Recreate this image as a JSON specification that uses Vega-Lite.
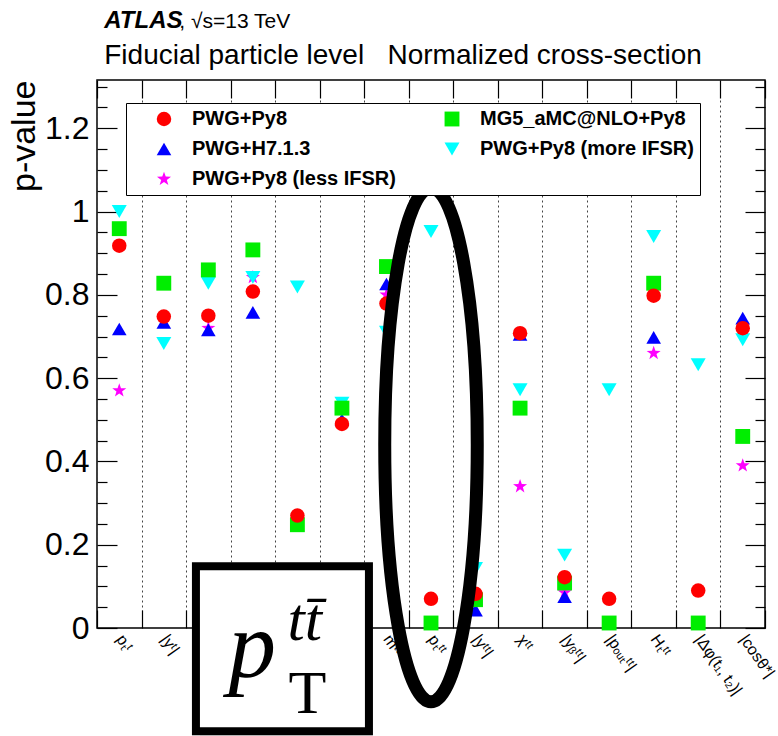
{
  "$schema": "https://vega.github.io/schema/vega-lite/v6.json",
  "autosize": "none",
  "width": 668,
  "height": 548,
  "padding": {"left": 97, "top": 80, "right": 13, "bottom": 108},
  "background": "white",
  "config": {
    "font": "Liberation Sans",
    "view": {"stroke": "black", "strokeWidth": 1.5},
    "axis": {"domain": false, "tickColor": "black", "tickWidth": 1.2, "labelColor": "black", "titleColor": "black", "labelFont": "Liberation Sans", "titleFont": "Liberation Sans", "grid": false}
  },
  "datasets": {
    "pts": [
      {"var": "pₜᵗ", "model": "PWG+Py8 (less IFSR)", "p": 0.570},
      {"var": "pₜᵗ¹", "model": "PWG+Py8 (less IFSR)", "p": 0.72},
      {"var": "|yᵗ¹|", "model": "PWG+Py8 (less IFSR)", "p": 0.842},
      {"var": "mᵗᵗ", "model": "PWG+Py8 (less IFSR)", "p": 0.80},
      {"var": "χᵗᵗ", "model": "PWG+Py8 (less IFSR)", "p": 0.340},
      {"var": "|yᵦᵗᵗ|", "model": "PWG+Py8 (less IFSR)", "p": 0.085},
      {"var": "Hₜᵗᵗ", "model": "PWG+Py8 (less IFSR)", "p": 0.660},
      {"var": "|cosθ*|", "model": "PWG+Py8 (less IFSR)", "p": 0.39},

      {"var": "pₜᵗ", "model": "PWG+Py8 (more IFSR)", "p": 1.0},
      {"var": "|yᵗ|", "model": "PWG+Py8 (more IFSR)", "p": 0.683},
      {"var": "pₜᵗ¹", "model": "PWG+Py8 (more IFSR)", "p": 0.828},
      {"var": "|yᵗ¹|", "model": "PWG+Py8 (more IFSR)", "p": 0.842},
      {"var": "pₜᵗ²", "model": "PWG+Py8 (more IFSR)", "p": 0.819},
      {"var": "|yᵗ²|", "model": "PWG+Py8 (more IFSR)", "p": 0.54},
      {"var": "mᵗᵗ", "model": "PWG+Py8 (more IFSR)", "p": 0.710},
      {"var": "pₜᵗᵗ", "model": "PWG+Py8 (more IFSR)", "p": 0.952},
      {"var": "|yᵗᵗ|", "model": "PWG+Py8 (more IFSR)", "p": 0.143},
      {"var": "χᵗᵗ", "model": "PWG+Py8 (more IFSR)", "p": 0.572},
      {"var": "|yᵦᵗᵗ|", "model": "PWG+Py8 (more IFSR)", "p": 0.175},
      {"var": "|pₒᵤₜᵗᵗ|", "model": "PWG+Py8 (more IFSR)", "p": 0.572},
      {"var": "Hₜᵗᵗ", "model": "PWG+Py8 (more IFSR)", "p": 0.940},
      {"var": "|Δφ(t₁, t₂)|", "model": "PWG+Py8 (more IFSR)", "p": 0.632},
      {"var": "|cosθ*|", "model": "PWG+Py8 (more IFSR)", "p": 0.692},

      {"var": "pₜᵗ", "model": "PWG+H7.1.3", "p": 0.718},
      {"var": "|yᵗ|", "model": "PWG+H7.1.3", "p": 0.734},
      {"var": "pₜᵗ¹", "model": "PWG+H7.1.3", "p": 0.716},
      {"var": "|yᵗ¹|", "model": "PWG+H7.1.3", "p": 0.758},
      {"var": "|yᵗ²|", "model": "PWG+H7.1.3", "p": 0.50},
      {"var": "mᵗᵗ", "model": "PWG+H7.1.3", "p": 0.826},
      {"var": "|yᵗᵗ|", "model": "PWG+H7.1.3", "p": 0.043},
      {"var": "χᵗᵗ", "model": "PWG+H7.1.3", "p": 0.705},
      {"var": "|yᵦᵗᵗ|", "model": "PWG+H7.1.3", "p": 0.075},
      {"var": "Hₜᵗᵗ", "model": "PWG+H7.1.3", "p": 0.698},
      {"var": "|cosθ*|", "model": "PWG+H7.1.3", "p": 0.744},

      {"var": "pₜᵗ", "model": "MG5_aMC@NLO+Py8", "p": 0.959},
      {"var": "|yᵗ|", "model": "MG5_aMC@NLO+Py8", "p": 0.828},
      {"var": "pₜᵗ¹", "model": "MG5_aMC@NLO+Py8", "p": 0.860},
      {"var": "|yᵗ¹|", "model": "MG5_aMC@NLO+Py8", "p": 0.908},
      {"var": "pₜᵗ²", "model": "MG5_aMC@NLO+Py8", "p": 0.248},
      {"var": "|yᵗ²|", "model": "MG5_aMC@NLO+Py8", "p": 0.528},
      {"var": "mᵗᵗ", "model": "MG5_aMC@NLO+Py8", "p": 0.868},
      {"var": "pₜᵗᵗ", "model": "MG5_aMC@NLO+Py8", "p": 0.012},
      {"var": "|yᵗᵗ|", "model": "MG5_aMC@NLO+Py8", "p": 0.068},
      {"var": "χᵗᵗ", "model": "MG5_aMC@NLO+Py8", "p": 0.528},
      {"var": "|yᵦᵗᵗ|", "model": "MG5_aMC@NLO+Py8", "p": 0.108},
      {"var": "|pₒᵤₜᵗᵗ|", "model": "MG5_aMC@NLO+Py8", "p": 0.012},
      {"var": "Hₜᵗᵗ", "model": "MG5_aMC@NLO+Py8", "p": 0.828},
      {"var": "|Δφ(t₁, t₂)|", "model": "MG5_aMC@NLO+Py8", "p": 0.012},
      {"var": "|cosθ*|", "model": "MG5_aMC@NLO+Py8", "p": 0.460},

      {"var": "pₜᵗ", "model": "PWG+Py8", "p": 0.918},
      {"var": "|yᵗ|", "model": "PWG+Py8", "p": 0.748},
      {"var": "pₜᵗ¹", "model": "PWG+Py8", "p": 0.750},
      {"var": "|yᵗ¹|", "model": "PWG+Py8", "p": 0.808},
      {"var": "pₜᵗ²", "model": "PWG+Py8", "p": 0.270},
      {"var": "|yᵗ²|", "model": "PWG+Py8", "p": 0.490},
      {"var": "mᵗᵗ", "model": "PWG+Py8", "p": 0.779},
      {"var": "pₜᵗᵗ", "model": "PWG+Py8", "p": 0.070},
      {"var": "|yᵗᵗ|", "model": "PWG+Py8", "p": 0.082},
      {"var": "χᵗᵗ", "model": "PWG+Py8", "p": 0.708},
      {"var": "|yᵦᵗᵗ|", "model": "PWG+Py8", "p": 0.122},
      {"var": "|pₒᵤₜᵗᵗ|", "model": "PWG+Py8", "p": 0.070},
      {"var": "Hₜᵗᵗ", "model": "PWG+Py8", "p": 0.798},
      {"var": "|Δφ(t₁, t₂)|", "model": "PWG+Py8", "p": 0.090},
      {"var": "|cosθ*|", "model": "PWG+Py8", "p": 0.720}
    ],
    "one": [{"k": 1}]
  },
  "layer": [
    {
      "data": {"name": "pts"},
      "mark": {"type": "point", "filled": true, "opacity": 1, "strokeWidth": 0},
      "encoding": {
        "x": {"field": "var", "type": "nominal",
          "scale": {"type": "band", "paddingInner": 0, "paddingOuter": 0, "domain": ["pₜᵗ", "|yᵗ|", "pₜᵗ¹", "|yᵗ¹|", "pₜᵗ²", "|yᵗ²|", "mᵗᵗ", "pₜᵗᵗ", "|yᵗᵗ|", "χᵗᵗ", "|yᵦᵗᵗ|", "|pₒᵤₜᵗᵗ|", "Hₜᵗᵗ", "|Δφ(t₁, t₂)|", "|cosθ*|"]},
          "axis": {"orient": "bottom", "title": null, "tickBand": "extent", "grid": true, "gridDash": [2, 3], "gridColor": "#444", "gridWidth": 1, "tickSize": -18, "labelAngle": 55, "labelAlign": "left", "labelBaseline": "middle", "labelFontSize": 16, "labelPadding": 26, "labelOverlap": false}},
        "y": {"field": "p", "type": "quantitative",
          "scale": {"domain": [0, 1.316], "nice": false, "zero": false},
          "axis": {"orient": "left", "title": "p-value", "titleFontSize": 34, "titleFontWeight": "normal", "titleAnchor": "end", "titlePadding": 3, "values": [0, 0.2, 0.4, 0.6, 0.8, 1, 1.2], "format": "~g", "labelFontSize": 32, "labelPadding": 28, "tickSize": -20, "labelOverlap": false, "labelFlush": false}},
        "color": {"field": "model", "type": "nominal",
          "scale": {"domain": ["PWG+Py8", "PWG+H7.1.3", "PWG+Py8 (less IFSR)", "MG5_aMC@NLO+Py8", "PWG+Py8 (more IFSR)"], "range": ["#ff0000", "#0000ff", "#ff00ff", "#00ee00", "#00ffff"]},
          "legend": {"title": null, "orient": "none", "legendX": 29, "legendY": 23, "columns": 2, "padding": 6, "strokeColor": "black", "fillColor": "white", "labelFontSize": 20, "labelFontWeight": "bold", "labelColor": "black", "symbolOffset": 22, "labelOffset": 18, "columnPadding": 24, "rowPadding": 10, "labelLimit": 400}},
        "shape": {"field": "model", "type": "nominal",
          "scale": {"domain": ["PWG+Py8", "PWG+H7.1.3", "PWG+Py8 (less IFSR)", "MG5_aMC@NLO+Py8", "PWG+Py8 (more IFSR)"], "range": ["circle", "triangle-up", "M0,-1L0.235,-0.324L0.951,-0.309L0.380,0.124L0.588,0.809L0,0.4L-0.588,0.809L-0.380,0.124L-0.951,-0.309L-0.235,-0.324Z", "square", "triangle-down"]},
          "legend": {"title": null, "orient": "none", "legendX": 29, "legendY": 23, "columns": 2, "padding": 6, "strokeColor": "black", "fillColor": "white", "labelFontSize": 20, "labelFontWeight": "bold", "labelColor": "black", "symbolOffset": 22, "labelOffset": 18, "columnPadding": 24, "rowPadding": 10, "labelLimit": 400}},
        "size": {"field": "model", "type": "nominal",
          "scale": {"domain": ["PWG+Py8", "PWG+H7.1.3", "PWG+Py8 (less IFSR)", "MG5_aMC@NLO+Py8", "PWG+Py8 (more IFSR)"], "range": [210, 225, 150, 205, 225]},
          "legend": {"title": null, "orient": "none", "legendX": 29, "legendY": 23, "columns": 2, "padding": 6, "strokeColor": "black", "fillColor": "white", "labelFontSize": 20, "labelFontWeight": "bold", "labelColor": "black", "symbolOffset": 22, "labelOffset": 18, "columnPadding": 24, "rowPadding": 10, "labelLimit": 400}}
      }
    },
    {
      "data": {"name": "pts"},
      "mark": {"type": "point", "opacity": 0},
      "encoding": {
        "x": {"field": "var", "type": "nominal",
          "scale": {"type": "band", "paddingInner": 0, "paddingOuter": 0, "domain": ["pₜᵗ", "|yᵗ|", "pₜᵗ¹", "|yᵗ¹|", "pₜᵗ²", "|yᵗ²|", "mᵗᵗ", "pₜᵗᵗ", "|yᵗᵗ|", "χᵗᵗ", "|yᵦᵗᵗ|", "|pₒᵤₜᵗᵗ|", "Hₜᵗᵗ", "|Δφ(t₁, t₂)|", "|cosθ*|"]},
          "axis": {"orient": "top", "title": null, "tickBand": "extent", "labels": false, "tickSize": -18}},
        "y": {"field": "p", "type": "quantitative",
          "scale": {"domain": [0, 1.316], "nice": false, "zero": false},
          "axis": {"orient": "right", "title": null, "values": [0, 0.2, 0.4, 0.6, 0.8, 1, 1.2], "labels": false, "tickSize": -20}}
      }
    },
    {
      "data": {"name": "pts"},
      "mark": {"type": "point", "opacity": 0},
      "encoding": {
        "x": {"field": "var", "type": "nominal",
          "scale": {"type": "band", "paddingInner": 0, "paddingOuter": 0, "domain": ["pₜᵗ", "|yᵗ|", "pₜᵗ¹", "|yᵗ¹|", "pₜᵗ²", "|yᵗ²|", "mᵗᵗ", "pₜᵗᵗ", "|yᵗᵗ|", "χᵗᵗ", "|yᵦᵗᵗ|", "|pₒᵤₜᵗᵗ|", "Hₜᵗᵗ", "|Δφ(t₁, t₂)|", "|cosθ*|"]},
          "axis": null},
        "y": {"field": "p", "type": "quantitative",
          "scale": {"domain": [0, 1.316], "nice": false, "zero": false},
          "axis": {"orient": "left", "title": null, "values": [0.05, 0.1, 0.15, 0.25, 0.3, 0.35, 0.45, 0.5, 0.55, 0.65, 0.7, 0.75, 0.85, 0.9, 0.95, 1.05, 1.1, 1.15, 1.25, 1.3], "labels": false, "tickSize": -10}}
      }
    },
    {
      "data": {"name": "pts"},
      "mark": {"type": "point", "opacity": 0},
      "encoding": {
        "x": {"field": "var", "type": "nominal",
          "scale": {"type": "band", "paddingInner": 0, "paddingOuter": 0, "domain": ["pₜᵗ", "|yᵗ|", "pₜᵗ¹", "|yᵗ¹|", "pₜᵗ²", "|yᵗ²|", "mᵗᵗ", "pₜᵗᵗ", "|yᵗᵗ|", "χᵗᵗ", "|yᵦᵗᵗ|", "|pₒᵤₜᵗᵗ|", "Hₜᵗᵗ", "|Δφ(t₁, t₂)|", "|cosθ*|"]},
          "axis": null},
        "y": {"field": "p", "type": "quantitative",
          "scale": {"domain": [0, 1.316], "nice": false, "zero": false},
          "axis": {"orient": "right", "title": null, "values": [0.05, 0.1, 0.15, 0.25, 0.3, 0.35, 0.45, 0.5, 0.55, 0.65, 0.7, 0.75, 0.85, 0.9, 0.95, 1.05, 1.1, 1.15, 1.25, 1.3], "labels": false, "tickSize": -10}}
      }
    },
    {
      "data": {"name": "one"},
      "mark": {"type": "point", "shape": "M-1.127,-0.908L0.873,-0.908L0.873,1.0L-1.127,1.0Z", "size": 29929, "filled": true, "fill": "#b0b0b0", "opacity": 0.7, "strokeWidth": 0},
      "encoding": {
        "x": {"datum": "pₜᵗ²", "type": "nominal", "axis": null,
          "scale": {"type": "band", "paddingInner": 0, "paddingOuter": 0, "domain": ["pₜᵗ", "|yᵗ|", "pₜᵗ¹", "|yᵗ¹|", "pₜᵗ²", "|yᵗ²|", "mᵗᵗ", "pₜᵗᵗ", "|yᵗᵗ|", "χᵗᵗ", "|yᵦᵗᵗ|", "|pₒᵤₜᵗᵗ|", "Hₜᵗᵗ", "|Δφ(t₁, t₂)|", "|cosθ*|"]}},
        "y": {"datum": -0.05, "type": "quantitative", "axis": null, "scale": {"domain": [0, 1.316], "nice": false, "zero": false}}
      }
    },
    {
      "data": {"name": "one"},
      "mark": {"type": "point", "shape": "M-1.173,-0.954L0.827,-0.954L0.827,0.954L-1.173,0.954Z", "size": 29929, "filled": false, "fill": "white", "fillOpacity": 1, "stroke": "black", "strokeWidth": 8, "opacity": 1},
      "encoding": {
        "x": {"datum": "pₜᵗ²", "type": "nominal", "axis": null,
          "scale": {"type": "band", "paddingInner": 0, "paddingOuter": 0, "domain": ["pₜᵗ", "|yᵗ|", "pₜᵗ¹", "|yᵗ¹|", "pₜᵗ²", "|yᵗ²|", "mᵗᵗ", "pₜᵗᵗ", "|yᵗᵗ|", "χᵗᵗ", "|yᵦᵗᵗ|", "|pₒᵤₜᵗᵗ|", "Hₜᵗᵗ", "|Δφ(t₁, t₂)|", "|cosθ*|"]}},
        "y": {"datum": -0.05, "type": "quantitative", "axis": null, "scale": {"domain": [0, 1.316], "nice": false, "zero": false}}
      }
    },
    {
      "data": {"name": "one"},
      "mark": {"type": "text", "text": "p", "font": "Liberation Serif", "fontStyle": "italic", "fontSize": 95, "align": "left", "baseline": "alphabetic", "dx": -69, "dy": 28.5, "color": "black"},
      "encoding": {
        "x": {"datum": "pₜᵗ²", "type": "nominal", "axis": null,
          "scale": {"type": "band", "paddingInner": 0, "paddingOuter": 0, "domain": ["pₜᵗ", "|yᵗ|", "pₜᵗ¹", "|yᵗ¹|", "pₜᵗ²", "|yᵗ²|", "mᵗᵗ", "pₜᵗᵗ", "|yᵗᵗ|", "χᵗᵗ", "|yᵦᵗᵗ|", "|pₒᵤₜᵗᵗ|", "Hₜᵗᵗ", "|Δφ(t₁, t₂)|", "|cosθ*|"]}},
        "y": {"datum": -0.05, "type": "quantitative", "axis": null, "scale": {"domain": [0, 1.316], "nice": false, "zero": false}}
      }
    },
    {
      "data": {"name": "one"},
      "mark": {"type": "text", "text": "tt̄", "font": "Liberation Serif", "fontStyle": "italic", "fontSize": 62, "align": "left", "baseline": "alphabetic", "dx": -10, "dy": -9, "color": "black"},
      "encoding": {
        "x": {"datum": "pₜᵗ²", "type": "nominal", "axis": null,
          "scale": {"type": "band", "paddingInner": 0, "paddingOuter": 0, "domain": ["pₜᵗ", "|yᵗ|", "pₜᵗ¹", "|yᵗ¹|", "pₜᵗ²", "|yᵗ²|", "mᵗᵗ", "pₜᵗᵗ", "|yᵗᵗ|", "χᵗᵗ", "|yᵦᵗᵗ|", "|pₒᵤₜᵗᵗ|", "Hₜᵗᵗ", "|Δφ(t₁, t₂)|", "|cosθ*|"]}},
        "y": {"datum": -0.05, "type": "quantitative", "axis": null, "scale": {"domain": [0, 1.316], "nice": false, "zero": false}}
      }
    },
    {
      "data": {"name": "one"},
      "mark": {"type": "text", "text": "T", "font": "Liberation Serif", "fontSize": 62, "align": "left", "baseline": "alphabetic", "dx": -9, "dy": 64, "color": "black"},
      "encoding": {
        "x": {"datum": "pₜᵗ²", "type": "nominal", "axis": null,
          "scale": {"type": "band", "paddingInner": 0, "paddingOuter": 0, "domain": ["pₜᵗ", "|yᵗ|", "pₜᵗ¹", "|yᵗ¹|", "pₜᵗ²", "|yᵗ²|", "mᵗᵗ", "pₜᵗᵗ", "|yᵗᵗ|", "χᵗᵗ", "|yᵦᵗᵗ|", "|pₒᵤₜᵗᵗ|", "Hₜᵗᵗ", "|Δφ(t₁, t₂)|", "|cosθ*|"]}},
        "y": {"datum": -0.05, "type": "quantitative", "axis": null, "scale": {"domain": [0, 1.316], "nice": false, "zero": false}}
      }
    },
    {
      "data": {"name": "one"},
      "mark": {"type": "point", "shape": "M0,-1A0.18,1 0 1,1 0,1A0.18,1 0 1,1 0,-1Z", "size": 264196, "filled": false, "fillOpacity": 0, "stroke": "black", "strokeWidth": 13, "opacity": 1},
      "encoding": {
        "x": {"datum": "pₜᵗᵗ", "type": "nominal", "axis": null,
          "scale": {"type": "band", "paddingInner": 0, "paddingOuter": 0, "domain": ["pₜᵗ", "|yᵗ|", "pₜᵗ¹", "|yᵗ¹|", "pₜᵗ²", "|yᵗ²|", "mᵗᵗ", "pₜᵗᵗ", "|yᵗᵗ|", "χᵗᵗ", "|yᵦᵗᵗ|", "|pₒᵤₜᵗᵗ|", "Hₜᵗᵗ", "|Δφ(t₁, t₂)|", "|cosθ*|"]}},
        "y": {"datum": 0.44, "type": "quantitative", "axis": null, "scale": {"domain": [0, 1.316], "nice": false, "zero": false}}
      }
    },
    {
      "data": {"name": "one"},
      "mark": {"type": "text", "text": "ATLAS", "fontStyle": "italic", "fontWeight": "bold", "fontSize": 24, "align": "left", "baseline": "alphabetic", "dx": -15, "color": "black"},
      "encoding": {
        "x": {"datum": "pₜᵗ", "type": "nominal", "axis": null,
          "scale": {"type": "band", "paddingInner": 0, "paddingOuter": 0, "domain": ["pₜᵗ", "|yᵗ|", "pₜᵗ¹", "|yᵗ¹|", "pₜᵗ²", "|yᵗ²|", "mᵗᵗ", "pₜᵗᵗ", "|yᵗᵗ|", "χᵗᵗ", "|yᵦᵗᵗ|", "|pₒᵤₜᵗᵗ|", "Hₜᵗᵗ", "|Δφ(t₁, t₂)|", "|cosθ*|"]}},
        "y": {"datum": 1.442, "type": "quantitative", "axis": null, "scale": {"domain": [0, 1.316], "nice": false, "zero": false}}
      }
    },
    {
      "data": {"name": "one"},
      "mark": {"type": "text", "text": ", √s=13 TeV", "fontSize": 21, "align": "left", "baseline": "alphabetic", "dx": 60, "color": "black"},
      "encoding": {
        "x": {"datum": "pₜᵗ", "type": "nominal", "axis": null,
          "scale": {"type": "band", "paddingInner": 0, "paddingOuter": 0, "domain": ["pₜᵗ", "|yᵗ|", "pₜᵗ¹", "|yᵗ¹|", "pₜᵗ²", "|yᵗ²|", "mᵗᵗ", "pₜᵗᵗ", "|yᵗᵗ|", "χᵗᵗ", "|yᵦᵗᵗ|", "|pₒᵤₜᵗᵗ|", "Hₜᵗᵗ", "|Δφ(t₁, t₂)|", "|cosθ*|"]}},
        "y": {"datum": 1.442, "type": "quantitative", "axis": null, "scale": {"domain": [0, 1.316], "nice": false, "zero": false}}
      }
    },
    {
      "data": {"name": "one"},
      "mark": {"type": "text", "text": "Fiducial particle level\u00a0\u00a0\u00a0Normalized cross-section", "fontSize": 28, "align": "left", "baseline": "alphabetic", "dx": -15, "color": "black"},
      "encoding": {
        "x": {"datum": "pₜᵗ", "type": "nominal", "axis": null,
          "scale": {"type": "band", "paddingInner": 0, "paddingOuter": 0, "domain": ["pₜᵗ", "|yᵗ|", "pₜᵗ¹", "|yᵗ¹|", "pₜᵗ²", "|yᵗ²|", "mᵗᵗ", "pₜᵗᵗ", "|yᵗᵗ|", "χᵗᵗ", "|yᵦᵗᵗ|", "|pₒᵤₜᵗᵗ|", "Hₜᵗᵗ", "|Δφ(t₁, t₂)|", "|cosθ*|"]}},
        "y": {"datum": 1.355, "type": "quantitative", "axis": null, "scale": {"domain": [0, 1.316], "nice": false, "zero": false}}
      }
    }
  ],
  "resolve": {"axis": {"x": "independent", "y": "independent"}}
}
